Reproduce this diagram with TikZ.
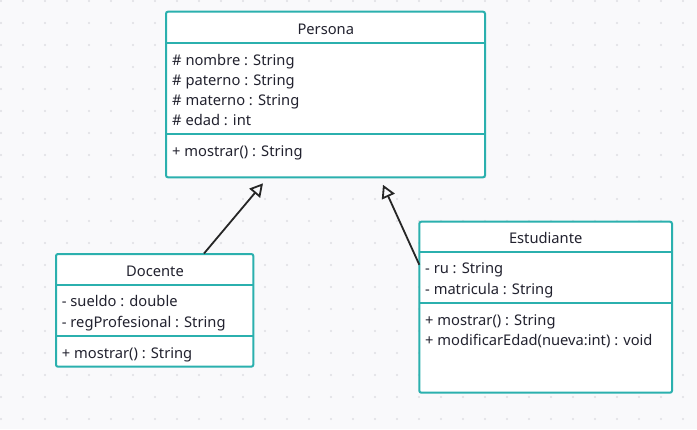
\documentclass[tikz,border=0pt]{standalone}
\usepackage{fontspec}
\setmainfont{Noto Sans}
\usetikzlibrary{arrows.meta,calc}
\definecolor{bg}{HTML}{F9F9FB}
\definecolor{dotc}{HTML}{DEDEE3}
\definecolor{tealc}{HTML}{2BB0AE}
\definecolor{txt}{HTML}{22222F}
\begin{document}
\begin{tikzpicture}[x=1pt,y=-1pt,
 classbox/.style={draw=tealc, line width=2pt, fill=white, rounded corners=2pt, anchor=north west, inner sep=0pt, outer sep=0pt},
 sepline/.style={draw=tealc, line width=2pt},
 member/.style={anchor=base west, inner sep=0pt, font=\fontsize{14.7}{17}\selectfont, text=txt},
 classtitle/.style={anchor=base, inner sep=0pt, font=\fontsize{14.7}{17}\selectfont, text=txt},
 inherit/.style={draw=black!85, line width=1.8pt, -{Triangle[open,length=13pt,width=14pt,line join=miter]}}]
\fill[bg] (0,0) rectangle (697,429);
\useasboundingbox (0,0) rectangle (697,429);
\foreach \i in {0,...,31} \foreach \j in {0,...,19} \fill[dotc] (1+22*\i,1+22*\j) circle (1.1pt);

% Persona
\node[classbox, minimum width=319pt, minimum height=165.6pt] (persona) at (166,11.7) {};
\draw[sepline] ($(persona.north west)+(0,31)$) -- ($(persona.north east)+(0,31)$);
\draw[sepline] ($(persona.north west)+(0,122)$) -- ($(persona.north east)+(0,122)$);
\node[classtitle] (ptitle) at (325.8,34.3) {Persona};
\node[member] (pa1) at (172,65) {\# nombre : String};
\node[member] (pa2) at (172,85) {\# paterno : String};
\node[member] (pa3) at (172,105) {\# materno : String};
\node[member] (pa4) at (172,125.7) {\# edad : int};
\node[member] (pm1) at (172,156.7) {+ mostrar() : String};

% Docente
\node[classbox, minimum width=197.3pt, minimum height=112.7pt] (docente) at (56,254) {};
\draw[sepline] ($(docente.north west)+(0,31)$) -- ($(docente.north east)+(0,31)$);
\draw[sepline] ($(docente.north west)+(0,81.7)$) -- ($(docente.north east)+(0,81.7)$);
\node[classtitle] (dtitle) at (155,276) {Docente};
\node[member] (da1) at (61.7,306.7) {- sueldo : double};
\node[member] (da2) at (61.7,327) {- regProfesional : String};
\node[member] (dm1) at (61.7,358) {+ mostrar() : String};

% Estudiante
\node[classbox, minimum width=252.7pt, minimum height=171pt] (estudiante) at (419.3,221.7) {};
\draw[sepline] ($(estudiante.north west)+(0,30)$) -- ($(estudiante.north east)+(0,30)$);
\draw[sepline] ($(estudiante.north west)+(0,81)$) -- ($(estudiante.north east)+(0,81)$);
\node[classtitle] (etitle) at (545.7,243.3) {Estudiante};
\node[member] (ea1) at (425,273.3) {- ru : String};
\node[member] (ea2) at (425,294.3) {- matricula : String};
\node[member] (em1) at (425,325) {+ mostrar() : String};
\node[member] (em2) at (425,345.7) {+ modificarEdad(nueva:int) : void};

% Generalizations
\draw[inherit] ($(docente.north west)+(148,-0.5)$) -- ($(persona.south west)+(97,6)$);
\draw[inherit] ($(estudiante.north west)+(0,43)$) -- ($(persona.south west)+(217,7.5)$);
\end{tikzpicture}
\end{document}
